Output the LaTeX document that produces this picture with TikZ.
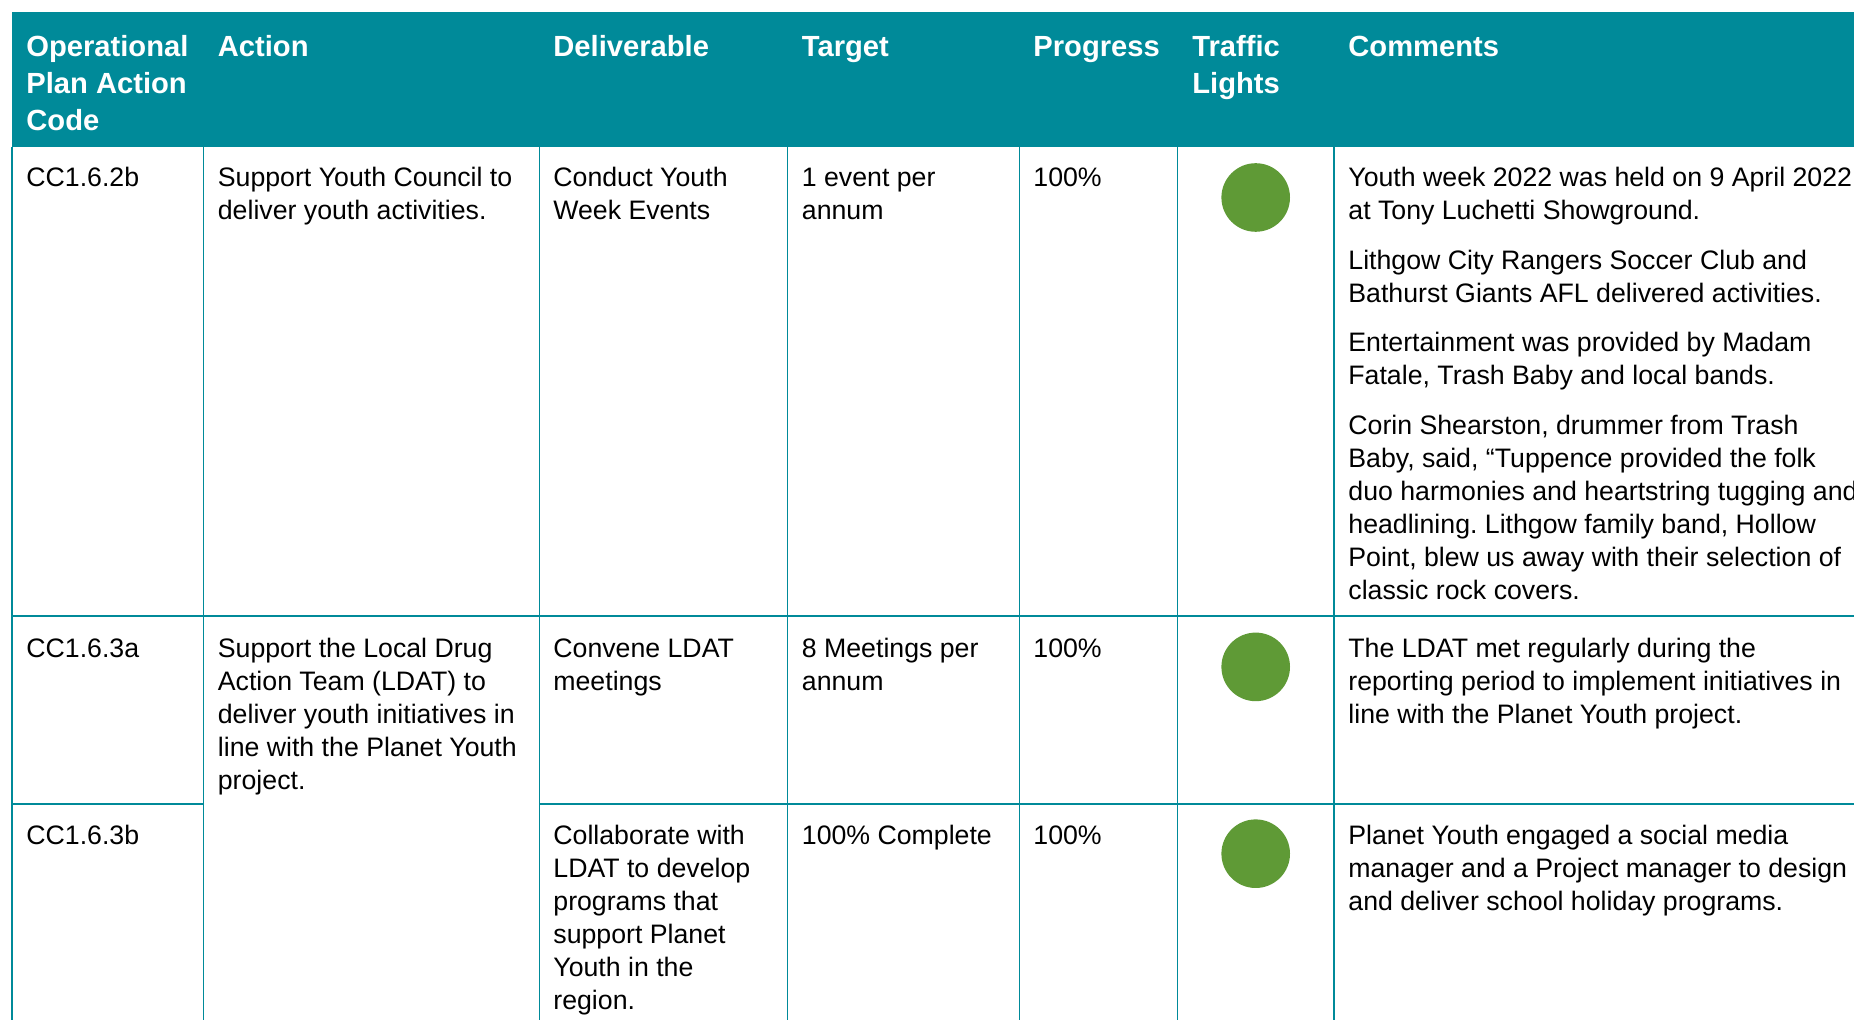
\documentclass[tikz,border=0pt]{standalone}
\usepackage{fontspec}
\setmainfont{Liberation Sans}
\frenchspacing
\definecolor{tablecol}{HTML}{008A99}
\definecolor{lightgreen}{HTML}{5F9A36}

\begin{document}
\begin{tikzpicture}[x=0.5pt,y=-0.5pt,
        rule/.style={draw=tablecol,line width=0.7pt},
        head/.style={anchor=north west,inner sep=0pt,align=left,text=white,
                     font=\fontsize{14.58}{18.3}\selectfont\bfseries},
        cell/.style={anchor=north west,inner sep=0pt,align=left,
                     font=\fontsize{13.35}{16.5}\selectfont},
        light/.style={circle,fill=lightgreen,minimum size=34.3pt,inner sep=0pt}]
        \useasboundingbox (0,0) rectangle (1854,1020);
        \clip (0,0) rectangle (1854,1020);

        % header band
        \fill[tablecol] (11.8,11.8) rectangle (1854,146.6);
        \node (hCode)     [head] at (26,30.9)    {\strut Operational\\Plan Action\\Code};
        \node (hAction)   [head] at (217.5,30.9) {\strut Action};
        \node (hDeliver)  [head] at (553,30.9)   {\strut Deliverable};
        \node (hTarget)   [head] at (801.5,30.9) {\strut Target};
        \node (hProgress) [head] at (1033,30.9)  {\strut Progress};
        \node (hLights)   [head] at (1192,30.9)  {\strut Traffic\\Lights};
        \node (hComments) [head] at (1348,30.9)  {\strut Comments};

        % grid
        \draw[rule] (11.8,146.6) -- (11.8,1020);
        \foreach \x in {203.4,539.2,787.5,1019.2,1177.7,1333.8}
                \draw[rule] (\x,146.6) -- (\x,1020);
        \draw[rule] (11.8,616) -- (1854,616);
        \draw[rule] (11.8,804) -- (203.4,804);
        \draw[rule] (539.2,804) -- (1854,804);

        % row CC1.6.2b
        \node (codeA)     [cell] at (26,163.5)    {\strut CC1.6.2b};
        \node (actionA)   [cell] at (217.5,163.5) {\strut Support Youth Council to\\deliver youth activities.};
        \node (deliverA)  [cell] at (553,163.5)   {\strut Conduct Youth\\Week Events};
        \node (targetA)   [cell] at (801.5,163.5) {\strut 1 event per\\annum};
        \node (progressA) [cell] at (1033,163.5)  {\strut 100\%};
        \node (lightA)    [light] at (1255.7,197.5) {};
        \node (commentA)  [cell] at (1348,163.5)
                {\strut Youth week 2022 was held on 9 April 2022\\at Tony Luchetti Showground.\\[8.25pt]
                 Lithgow City Rangers Soccer Club and\\Bathurst Giants AFL delivered activities.\\[8.25pt]
                 Entertainment was provided by Madam\\Fatale, Trash Baby and local bands.\\[8.25pt]
                 Corin Shearston, drummer from Trash\\Baby, said, “Tuppence provided the folk\\
                 duo harmonies and heartstring tugging and\\headlining. Lithgow family band, Hollow\\
                 Point, blew us away with their selection of\\classic rock covers.};

        % row CC1.6.3a
        \node (codeB)     [cell] at (26,634.4)    {\strut CC1.6.3a};
        \node (actionB)   [cell] at (217.5,634.4) {\strut Support the Local Drug\\Action Team (LDAT) to\\deliver youth initiatives in\\line with the Planet Youth\\project.};
        \node (deliverB)  [cell] at (553,634.4)   {\strut Convene LDAT\\meetings};
        \node (targetB)   [cell] at (801.5,634.4) {\strut 8 Meetings per\\annum};
        \node (progressB) [cell] at (1033,634.4)  {\strut 100\%};
        \node (lightB)    [light] at (1255.7,666.9) {};
        \node (commentB)  [cell] at (1348,634.4)
                {\strut The LDAT met regularly during the\\reporting period to implement initiatives in\\line with the Planet Youth project.};

        % row CC1.6.3b
        \node (codeC)     [cell] at (26,821.3)    {\strut CC1.6.3b};
        \node (deliverC)  [cell] at (553,821.3)   {\strut Collaborate with\\LDAT to develop\\programs that\\support Planet\\Youth in the\\region.};
        \node (targetC)   [cell] at (801.5,821.3) {\strut 100\% Complete};
        \node (progressC) [cell] at (1033,821.3)  {\strut 100\%};
        \node (lightC)    [light] at (1255.7,853.7) {};
        \node (commentC)  [cell] at (1348,821.3)
                {\strut Planet Youth engaged a social media\\manager and a Project manager to design\\and deliver school holiday programs.};
\end{tikzpicture}
\end{document}
